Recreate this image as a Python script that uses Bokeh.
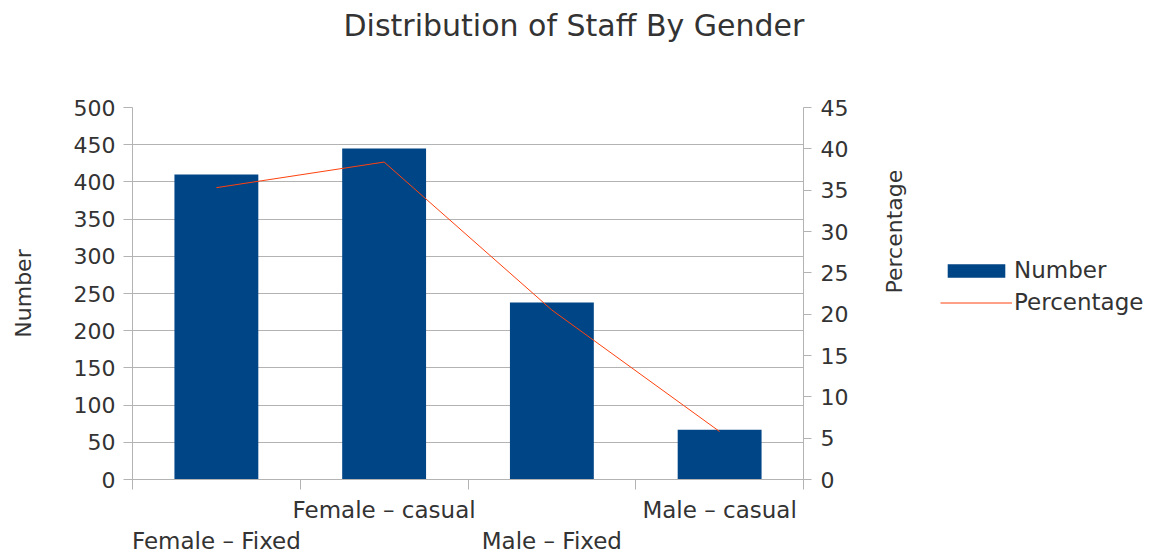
import math
from bokeh.plotting import figure
from bokeh.layouts import row
from bokeh.models import (Range1d, LinearAxis, FixedTicker, Legend, LegendItem,
                          ColumnDataSource, Title)
from bokeh.embed import file_html
from bokeh.resources import INLINE

# ---- data ----
categories = ["Female – Fixed", "Female – casual", "Male – Fixed", "Male – casual"]
number = [410, 445, 238, 67]
percentage = [35.3, 38.4, 20.5, 5.8]
left_ticks = [0, 50, 100, 150, 200, 250, 300, 350, 400, 450, 500]
right_ticks = [0, 5, 10, 15, 20, 25, 30, 35, 40, 45]
series_names = ["Number", "Percentage"]

TEXT = "#333333"
GRID = "#b3b3b3"
FONT = "DejaVu Sans"
BAR = "#004586"
LINE = "#ff420e"

n = len(categories)
xs = [i + 0.5 for i in range(n)]
src = ColumnDataSource(dict(x=xs, number=number, pct=percentage, cat=categories))

p = figure(frame_width=671, frame_height=372, output_backend="svg", toolbar_location=None,
           x_range=Range1d(0, n), y_range=Range1d(0, left_ticks[-1]),
           min_border_left=132, min_border_right=130, min_border_top=107,
           min_border_bottom=76)
p.extra_y_ranges = {"pct": Range1d(0, right_ticks[-1])}
p.outline_line_color = None
p.xgrid.visible = False
p.ygrid.grid_line_color = GRID

# title
p.title.text = "Distribution of Staff By Gender"
p.title.text_font = FONT
p.title.text_font_size = "30px"
p.title.text_font_style = "normal"
p.title.text_color = TEXT
p.title.align = "left"
p.title.offset = 211
p.title.standoff = 10
p.title.vertical_align = "top"
# spacer between title and frame
p.add_layout(Title(text=" ", text_font_size="1px", standoff=55), "above")

# left axis
ya = p.yaxis[0]
ya.ticker = FixedTicker(ticks=left_ticks)
ya.axis_line_color = GRID
ya.major_tick_out = 9
ya.major_tick_in = 0
ya.major_tick_line_color = GRID
ya.minor_tick_line_color = None
ya.major_label_text_font = FONT
ya.major_label_text_font_size = "22px"
ya.major_label_text_color = TEXT
ya.major_label_standoff = 8
ya.axis_label = "Number"
ya.axis_label_text_font = FONT
ya.axis_label_text_font_size = "22px"
ya.axis_label_text_font_style = "normal"
ya.axis_label_text_color = TEXT
ya.axis_label_standoff = 35

# bottom axis row 1 (with boundary ticks)
xa = p.xaxis[0]
xa.ticker = FixedTicker(ticks=xs, minor_ticks=list(range(n + 1)))
xa.major_label_overrides = {xs[i]: (categories[i] if i % 2 == 1 else "") for i in range(n)}
xa.axis_line_color = GRID
xa.major_tick_line_color = None
xa.major_tick_out = 0
xa.major_tick_in = 0
xa.minor_tick_line_color = GRID
xa.minor_tick_out = 10
xa.minor_tick_in = 0
xa.major_label_text_font = FONT
xa.major_label_text_font_size = "23px"
xa.major_label_text_color = TEXT
xa.major_label_standoff = 7

# bottom axis row 2
xb = LinearAxis(ticker=FixedTicker(ticks=xs))
xb.major_label_overrides = {xs[i]: (categories[i] if i % 2 == 0 else "") for i in range(n)}
xb.axis_line_color = None
xb.major_tick_line_color = None
xb.minor_tick_line_color = None
xb.major_tick_out = 0
xb.major_tick_in = 0
xb.major_label_text_font = FONT
xb.major_label_text_font_size = "23px"
xb.major_label_text_color = TEXT
xb.major_label_standoff = 2
p.add_layout(xb, "below")

# right axis
yr = LinearAxis(y_range_name="pct", ticker=FixedTicker(ticks=right_ticks))
yr.axis_line_color = GRID
yr.major_tick_out = 8
yr.major_tick_in = 0
yr.major_tick_line_color = GRID
yr.minor_tick_line_color = None
yr.major_label_text_font = FONT
yr.major_label_text_font_size = "22px"
yr.major_label_text_color = TEXT
yr.major_label_standoff = 9
yr.axis_label = "Percentage"
yr.axis_label_text_font = FONT
yr.axis_label_text_font_size = "22px"
yr.axis_label_text_font_style = "normal"
yr.axis_label_text_color = TEXT
yr.axis_label_standoff = 43
yr.axis_label_orientation = math.pi / 2
p.add_layout(yr, "right")

# marks
p.vbar(x="x", top="number", width=0.5, source=src, fill_color=BAR, line_color=None)
p.line(x="x", y="pct", source=src, y_range_name="pct", line_color=LINE, line_width=1)

# legend panel (separate small canvas to the right; its view is outside the data,
# so only the legend keys are seen)
leg = figure(width=217, height=555, output_backend="svg", toolbar_location=None,
             x_range=Range1d(-20, -19), y_range=Range1d(-20, -19),
             min_border=0, x_axis_location=None, y_axis_location=None)
leg.outline_line_color = None
leg.grid.visible = False
lb = leg.vbar(x="x", top="number", width=0.5, source=src, fill_color=BAR, line_color=None)
ll = leg.line(x="x", y="pct", source=src, line_color=LINE, line_width=1)
legend = Legend(items=[LegendItem(label=series_names[0], renderers=[lb]),
                       LegendItem(label=series_names[1], renderers=[ll])],
                location=(7, 163), border_line_color=None, background_fill_alpha=0,
                label_text_font=FONT, label_text_font_size="23px", label_text_color=TEXT,
                glyph_width=72, glyph_height=17, label_standoff=2, spacing=6,
                padding=0, margin=0)
leg.add_layout(legend)

layout = row(p, leg, spacing=0)
open("out.html", "w").write(file_html(layout, INLINE))
